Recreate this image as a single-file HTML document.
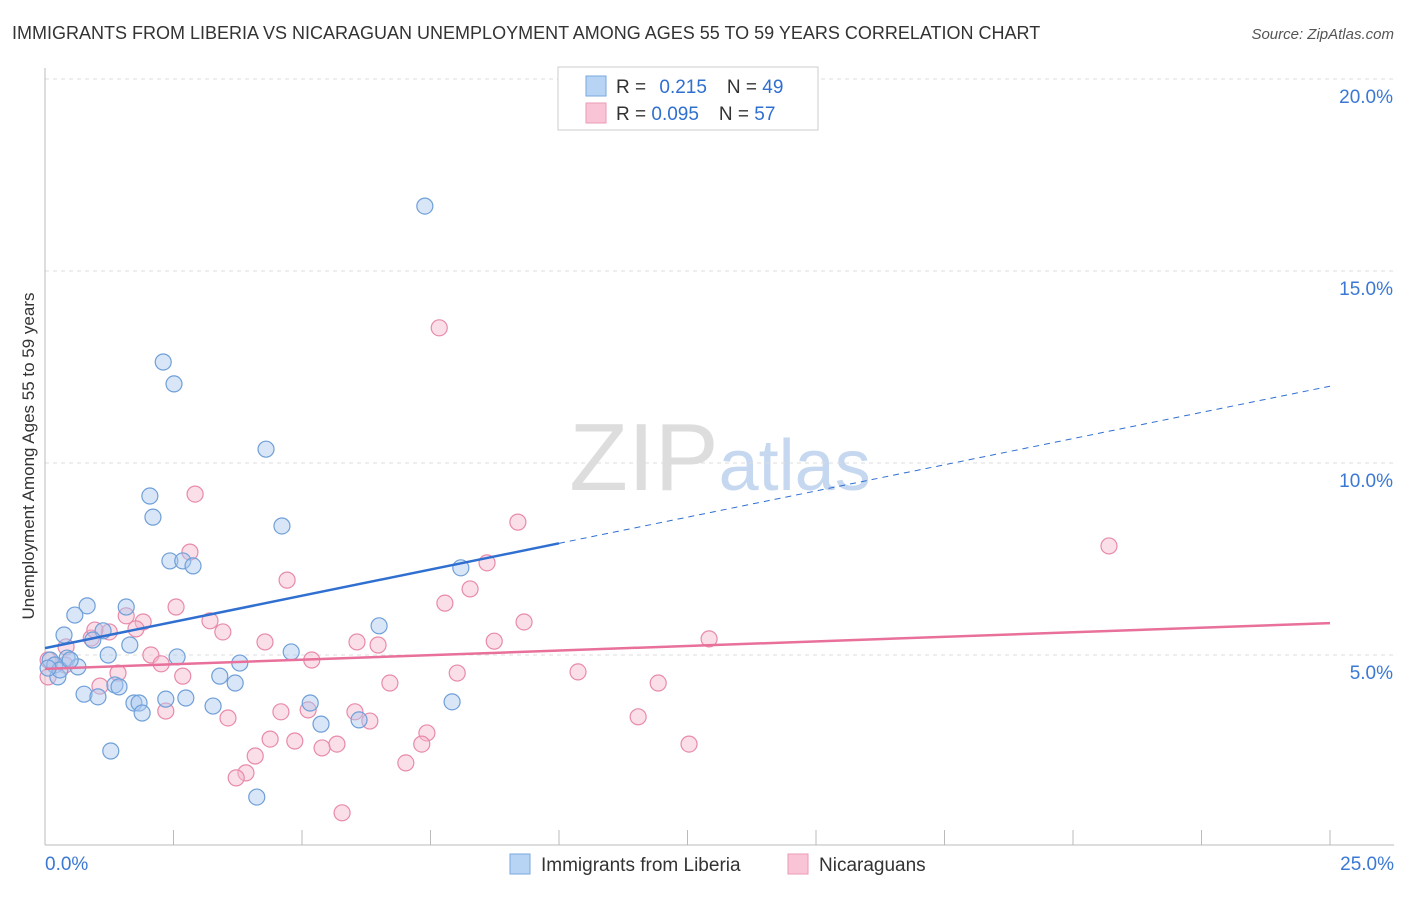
<!DOCTYPE html>
<html><head><meta charset="utf-8"><style>
body{margin:0;background:#fff;font-family:"Liberation Sans",sans-serif;}
svg text{font-family:"Liberation Sans",sans-serif;}
</style></head><body>
<svg id="chart" width="1406" height="892" xmlns="http://www.w3.org/2000/svg">
<text x="12" y="39" font-size="18" fill="#333">IMMIGRANTS FROM LIBERIA VS NICARAGUAN UNEMPLOYMENT AMONG AGES 55 TO 59 YEARS CORRELATION CHART</text>
<text x="1394" y="39" font-size="15" fill="#555" text-anchor="end" font-style="italic">Source: ZipAtlas.com</text>
<text x="720" y="490" font-size="96" fill="#ddd" text-anchor="middle" font-family="Liberation Serif">ZIP<tspan fill="#c5d8f0" font-family="Liberation Sans" font-size="72">atlas</tspan></text>
<g id="grid"></g>
<g id="axes"></g>
<g id="marks"></g>
<text transform="translate(34,456) rotate(-90)" font-size="17" fill="#333" text-anchor="middle">Unemployment Among Ages 55 to 59 years</text>
<g>
<rect x="558" y="67" width="260" height="63" fill="#fff" stroke="#ccc"/>
<rect x="586" y="76" width="20" height="20" fill="#b8d4f5" stroke="#7aa7de"/>
<rect x="586" y="103" width="20" height="20" fill="#f9c5d6" stroke="#eb9ab5"/>
<text x="616" y="93" font-size="19" fill="#333">R = <tspan fill="#2f6fd0" dx="8">0.215</tspan><tspan dx="20" fill="#333">N = </tspan><tspan fill="#2f6fd0">49</tspan></text>
<text x="616" y="120" font-size="19" fill="#333">R = <tspan fill="#2f6fd0">0.095</tspan><tspan dx="20" fill="#333">N = </tspan><tspan fill="#2f6fd0">57</tspan></text>
</g>
<g>
<rect x="510" y="854" width="20" height="20" fill="#b8d4f5" stroke="#7aa7de"/>
<text x="541" y="871" font-size="19" fill="#333">Immigrants from Liberia</text>
<rect x="788" y="854" width="20" height="20" fill="#f9c5d6" stroke="#eb9ab5"/>
<text x="819" y="871" font-size="19" fill="#333">Nicaraguans</text>
</g>
</svg>
<script>
const xTicksPct=[0,25];
const yTicks=[5,10,15,20];
const blueX=[7.39,2.30,2.51,4.30,2.04,2.10,4.61,2.43,2.68,2.88,8.09,0.82,1.58,0.58,6.50,0.37,1.13,0.93,1.65,1.23,2.57,4.79,3.79,0.43,0.64,0.10,0.19,0.25,3.40,3.70,1.36,1.44,0.76,1.03,2.35,2.74,1.73,1.83,3.27,1.89,5.16,7.92,5.37,6.11,1.28,4.12,0.29,0.06,0.49];
const blueY=[16.69,12.63,12.06,10.36,9.14,8.59,8.36,7.45,7.45,7.32,7.27,6.28,6.25,6.04,5.76,5.52,5.63,5.39,5.26,5.00,4.95,5.08,4.79,4.92,4.69,4.87,4.74,4.43,4.45,4.27,4.22,4.17,3.98,3.91,3.85,3.88,3.75,3.75,3.67,3.49,3.75,3.78,3.20,3.31,2.50,1.30,4.61,4.66,4.87];
const pinkX=[7.67,20.70,2.92,9.20,2.82,8.60,4.71,8.27,7.78,2.55,1.58,1.91,3.21,9.32,1.77,1.25,3.46,0.90,4.28,6.07,6.48,8.74,12.92,0.41,2.06,5.19,2.26,0.39,0.06,10.37,8.02,1.42,2.68,0.06,6.71,11.93,1.07,2.35,4.59,5.12,6.03,3.56,6.32,11.54,7.43,4.38,4.86,5.68,5.39,7.33,12.53,4.09,7.02,3.91,3.72,5.78,0.97];
const pinkY=[13.52,7.84,9.19,8.46,7.68,7.40,6.95,6.72,6.35,6.25,6.02,5.86,5.89,5.86,5.68,5.60,5.60,5.44,5.34,5.34,5.26,5.36,5.42,5.21,5.00,4.87,4.77,4.74,4.87,4.56,4.53,4.53,4.45,4.43,4.27,4.27,4.19,3.54,3.52,3.57,3.52,3.36,3.28,3.39,2.97,2.81,2.76,2.68,2.58,2.68,2.68,2.37,2.19,1.93,1.80,0.89,5.65];
const blueTrend=[5.18,12.0];
const pinkTrend=[4.64,5.83];
const blueSolidEnd=10;

const NS="http://www.w3.org/2000/svg";
const X=v=>45+v*51.4;
const Y=v=>847-v*38.4;
function mk(tag,attrs,parent){const e=document.createElementNS(NS,tag);for(const k in attrs)e.setAttribute(k,attrs[k]);parent.appendChild(e);return e;}
const grid=document.getElementById('grid'),axes=document.getElementById('axes'),marks=document.getElementById('marks');
yTicks.forEach(t=>{
 const l=mk('line',{x1:45,x2:1394,y1:Y(t),y2:Y(t),stroke:'#ddd','stroke-dasharray':'4,4'},grid);
 
 
 const tx=mk('text',{x:1393,y:Y(t)+24,'font-size':19,fill:'#3a78d4','text-anchor':'end'},axes);
 tx.textContent=t.toFixed(1)+'%';
 
 
});
let a=mk('line',{x1:45,x2:45,y1:68,y2:845,stroke:'#bbb'},axes);


a=mk('line',{x1:45,x2:1394,y1:845,y2:845,stroke:'#bbb'},axes);


for(let i=0;i<=10;i++){const t=mk('line',{x1:X(i*2.5),x2:X(i*2.5),y1:830,y2:845,stroke:'#bbb'},axes);
 
 }
xTicksPct.forEach((t,i)=>{const tx=mk('text',{x:i==0?45:1394,y:870,'font-size':19,fill:'#3a78d4','text-anchor':i==0?'start':'end'},axes);
 tx.textContent=t.toFixed(1)+'%';
 
 });
function pts(xs,ys,fill,stroke,name){xs.forEach((x,i)=>{const c=mk('circle',{cx:X(x),cy:Y(ys[i]),r:8,fill:fill,'fill-opacity':0.45,stroke:stroke,'stroke-width':1.2},marks);
 
 });}
pts(pinkX,pinkY,'#f5b8cc','#e88aaa','nicaraguans-point');
pts(blueX,blueY,'#a8c8f0','#6f9fd8','liberia-point');
const by=x=>blueTrend[0]+(blueTrend[1]-blueTrend[0])*x/25;
let l=mk('line',{x1:X(0),y1:Y(by(0)),x2:X(blueSolidEnd),y2:Y(by(blueSolidEnd)),stroke:'#2f6fd0','stroke-width':2.5},marks);


l=mk('line',{x1:X(blueSolidEnd),y1:Y(by(blueSolidEnd)),x2:X(25),y2:Y(by(25)),stroke:'#2f6fd0','stroke-width':1,'stroke-dasharray':'6,5'},marks);


l=mk('line',{x1:X(0),y1:Y(pinkTrend[0]),x2:X(25),y2:Y(pinkTrend[1]),stroke:'#e8709a','stroke-width':2.5},marks);


</script>
</body></html>
